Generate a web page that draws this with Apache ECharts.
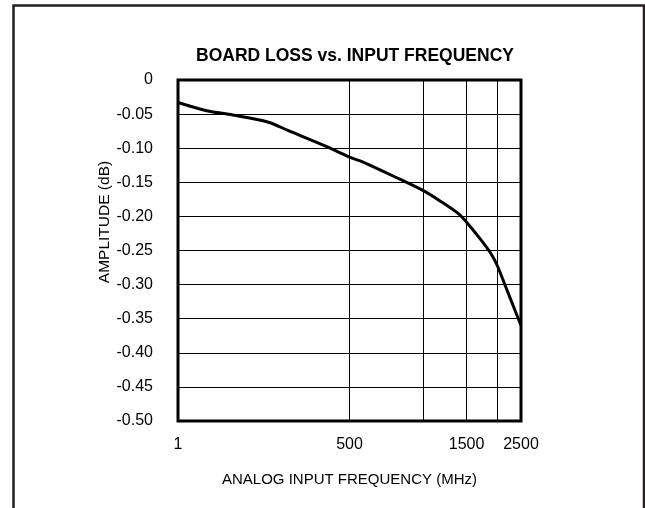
<!DOCTYPE html>
<html>
<head>
<meta charset="utf-8">
<script src="https://cdn.jsdelivr.net/npm/echarts@6/dist/echarts.min.js"></script>
<style>
  html, body { margin: 0; padding: 0; background: #fff; }
  #chart { width: 645px; height: 508px; }
</style>
</head>
<body>
<div id="chart"></div>
<script>
// ---- data ----
const freqMHz   = [100, 131, 167, 232, 282, 404, 500, 571, 797, 1000, 1165, 1389, 1500, 1705, 1887, 2000, 2207, 2500];
const amplitude = [-0.033, -0.045, -0.0513, -0.0615, -0.0743, -0.0978, -0.113, -0.1207, -0.145, -0.1623, -0.177, -0.196, -0.2085, -0.233, -0.2547, -0.272, -0.3107, -0.36];

const xGridValues  = [100, 500, 1000, 1500, 2000, 2500];
const xLabelValues = [100, 500, 1500, 2500];
const xLabelTexts  = ['1', '500', '1500', '2500'];

const titleText = 'BOARD LOSS vs. INPUT FREQUENCY';
const xName = 'ANALOG INPUT FREQUENCY (MHz)';
const yName = 'AMPLITUDE (dB)';

const FONT = '"Liberation Sans", Arial, sans-serif';

const chart = echarts.init(document.getElementById('chart'), null, { renderer: 'canvas' });

const seriesData = freqMHz.map((f, i) => [f, amplitude[i]]);

chart.setOption({
  animation: false,
  backgroundColor: '#fff',
  title: {
    text: titleText,
    left: 350,
    top: 42,
    textAlign: 'center',
    textStyle: { fontFamily: FONT, fontWeight: 'bold', fontSize: 17.5, color: '#000' }
  },
  graphic: [
    {
      type: 'rect',
      shape: { x: 13.5, y: 5.5, width: 630.5, height: 540 },
      style: { fill: null, stroke: '#231f20', lineWidth: 2.5 },
      silent: true, z: 100
    },
    {
      type: 'text',
      x: 105, y: 222,
      rotation: Math.PI / 2,
      style: { text: yName, align: 'center', verticalAlign: 'middle',
               font: '15.5px ' + FONT, fill: '#000' }
    }
  ],
  grid: {
    left: 178, top: 80, width: 343, height: 341,
    show: true, borderColor: '#000', borderWidth: 3, backgroundColor: 'transparent',
    containLabel: false
  },
  xAxis: {
    type: 'log',
    logBase: 10,
    min: 100,
    max: 2500,
    name: xName,
    nameLocation: 'middle',
    nameGap: 51,
    nameTextStyle: { fontFamily: FONT, fontSize: 15, color: '#000' },
    axisLine: { show: false },
    axisTick: { show: false, customValues: xGridValues },
    splitLine: { show: true, lineStyle: { color: '#000', width: 1 } },
    axisLabel: {
      customValues: xLabelValues,
      margin: 16,
      fontFamily: FONT, fontSize: 16, color: '#000',
      formatter: function (v) {
        const i = xLabelValues.findIndex(x => Math.abs(x - v) < 1e-6 * x);
        return i >= 0 ? xLabelTexts[i] : '';
      }
    }
  },
  yAxis: {
    type: 'value',
    min: -0.5,
    max: 0,
    interval: 0.05,
    axisLine: { show: false },
    axisTick: { show: false },
    splitLine: { show: true, lineStyle: { color: '#000', width: 1 } },
    axisLabel: {
      margin: 25,
      fontFamily: FONT, fontSize: 16, color: '#000',
      formatter: function (v) {
        return Math.abs(v) < 1e-9 ? '0' : v.toFixed(2);
      }
    }
  },
  series: [{
    type: 'line',
    data: seriesData,
    showSymbol: false,
    smooth: 0.3,
    clip: false,
    lineStyle: { color: '#000', width: 3 },
    z: 5
  }]
});
</script>
</body>
</html>
